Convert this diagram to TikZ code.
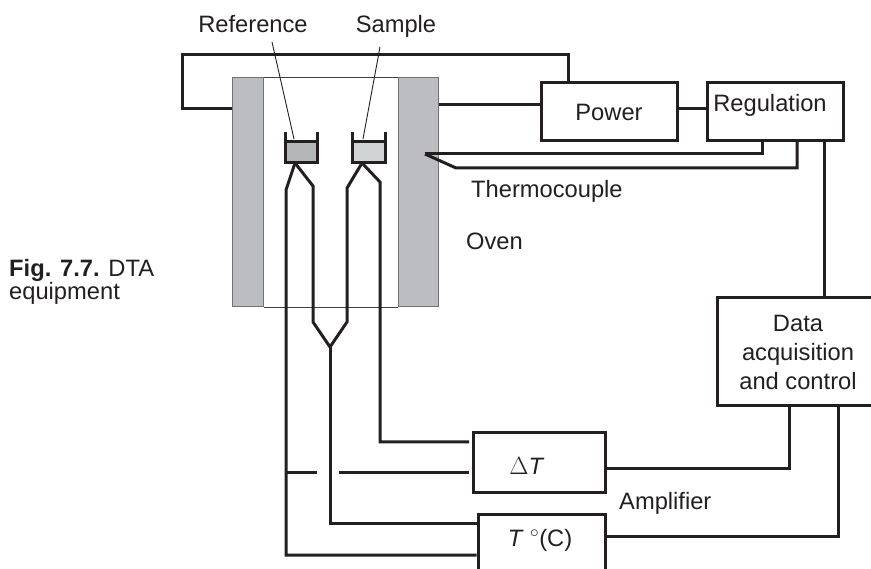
\documentclass[tikz,border=0pt]{standalone}
\usepackage{fontspec}
\setmainfont{Liberation Sans}
\usetikzlibrary{positioning, calc}

\definecolor{ovengray}{HTML}{BBBDC0}
\definecolor{refgray}{HTML}{B5B6B8}
\definecolor{samplegray}{HTML}{D2D3D4}
\definecolor{inkblack}{HTML}{231F20}

\tikzset{
    wire/.style={draw=inkblack, line width=3pt, line join=miter},
    leader/.style={draw=inkblack, line width=0.9pt},
    unitbox/.style={draw=inkblack, line width=3pt, inner sep=0pt, align=center},
    ovenwall/.style={draw=black!55, line width=1pt, fill=ovengray, inner sep=0pt, minimum width=#1, minimum height=229pt},
    pan/.style={fill=#1, inner sep=0pt, minimum width=32pt, minimum height=22pt},
    txt/.style={text=inkblack, inner sep=0pt, font=\fontsize{23.7}{29}\selectfont, align=center},
    caption/.style={text=inkblack, inner sep=0pt, font=\fontsize{23.7}{23}\selectfont, align=left, anchor=west}
}

\begin{document}
\begin{tikzpicture}[x=1pt, y=-1pt]
        \useasboundingbox (0,0) rectangle (871,569);

        % 1. Oven walls and inner chamber
        \node[ovenwall=31pt] (ovenL) at (247.5,192.5) {};
        \node[ovenwall=40pt] (ovenR) at (418,192.5) {};
        \draw[leader, draw=black!75] (ovenL.north east) -- (ovenR.north west);
        \draw[leader, draw=black!75] (ovenL.south east) -- (ovenR.south west);

        % 2. Pans
        \node[pan=refgray] (refpan) at (301,152) {};
        \node[pan=samplegray] (samplepan) at (368.5,152) {};
        \draw[wire] (285,132) -- (285,163) -- (317,163) -- (317,132);
        \draw[wire] (285,142) -- (317,142);
        \draw[wire] (352,132) -- (352,163) -- (385,163) -- (385,132);
        \draw[wire] (352,142) -- (385,142);

        % 3. Boxes
        \node[unitbox, minimum width=136pt, minimum height=58pt] (power) at (609,112) {};
        \node[unitbox, minimum width=136pt, minimum height=58pt] (regul) at (775,112) {};
        \node[unitbox, minimum width=162pt, minimum height=108pt] (daq) at (798,352) {};
        \node[unitbox, minimum width=132pt, minimum height=59pt] (dtbox) at (539,462.5) {};
        \node[unitbox, minimum width=127pt, minimum height=70pt] (tbox) at (541.5,549) {};

        % 4. Heater and regulation wiring
        \draw[wire] (ovenL.west |- 0,109) -- (182,109) -- (182,55) -| (568,83);
        \draw[wire] (ovenR.east |- 0,105) -- (power.west |- 0,105);
        \draw[wire] (power.east |- 0,109) -- (regul.west |- 0,109);

        % 5. Thermocouple of the oven
        \coordinate (tip) at (425,154);
        \draw[wire] (762,141) |- (tip);
        \draw[wire] (797,141) |- (456,168) -- (tip);
        \draw[wire] (824,141) -- (824,298);

        % 6. Reference and sample legs
        \coordinate (vee) at (330,347);
        \draw[wire] (295,163) -- (286,190) -- (286,555) -- (tbox.west |- 0,555);
        \draw[wire] (295,163) -- (313,186) -- (313,322) -- (vee);
        \draw[wire] (362,163) -- (347,188) -- (347,322) -- (vee);
        \draw[wire] (362,163) -- (380,182) -- (380,442) -- (469,442);
        \draw[wire] (vee) -- (330,523) -- (tbox.west |- 0,523);
        \draw[wire] (286,473) -- (317,473);
        \draw[wire] (339,473) -- (469,473);

        % 7. Data acquisition wiring
        \draw[wire] (dtbox.east |- 0,469) -| (789,406);
        \draw[wire] (tbox.east |- 0,536) -| (838,406);

        % 8. Labels
        \node[txt] (reflabel) at (253,24) {Reference};
        \node[txt] (samplelabel) at (396,26) {Sample};
        \draw[leader] (272,42) -- (294,139);
        \draw[leader] (380,47) -- (363,139);
        \node[txt] at (power.center) {Power};
        \node[txt] at (770,105) {Regulation};
        \node[txt] at (daq.center) {Data\\acquisition\\and control};
        \node[txt] at (527,466) {$\Delta$\textit{T}};
        \node[txt] at (540,540) {\textit{T} $^\circ$(C)};
        \node[txt, anchor=west] at (619,503) {Amplifier};
        \node[txt, anchor=west] at (471,191) {Thermocouple};
        \node[txt, anchor=west] at (466,241) {Oven};
        \node[caption] at (9,282) {\textbf{Fig. 7.7.} DTA\\equipment};

    \end{tikzpicture}
\end{document}
